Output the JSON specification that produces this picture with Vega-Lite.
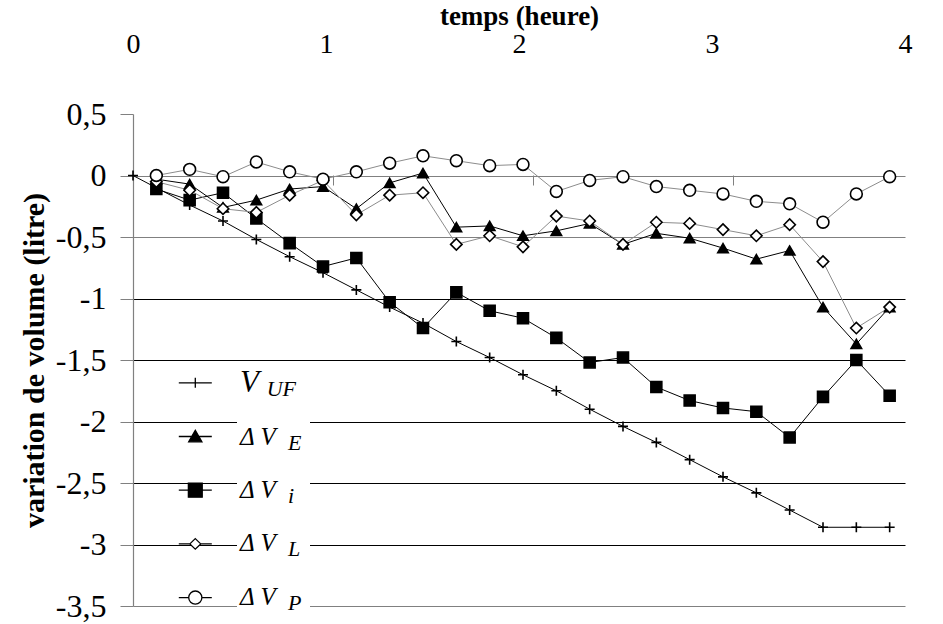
{
  "$schema": "https://vega.github.io/schema/vega-lite/v6.json",
  "width": 772,
  "height": 492,
  "autosize": {"type": "none"},
  "padding": {"left": 133, "top": 114, "right": 38, "bottom": 18},
  "background": "white",
  "config": {"view": {"stroke": null}, "font": "Liberation Serif, Times New Roman, DejaVu Serif, serif"},
  "datasets": {
    "main": [
      {"serie": "1UF", "t": 0, "v": 0},
      {"serie": "1UF", "t": 0.1167, "v": -0.10},
      {"serie": "1UF", "t": 0.2833, "v": -0.24},
      {"serie": "1UF", "t": 0.45, "v": -0.37},
      {"serie": "1UF", "t": 0.6167, "v": -0.52},
      {"serie": "1UF", "t": 0.7833, "v": -0.66},
      {"serie": "1UF", "t": 0.95, "v": -0.79},
      {"serie": "1UF", "t": 1.1167, "v": -0.93},
      {"serie": "1UF", "t": 1.2833, "v": -1.07},
      {"serie": "1UF", "t": 1.45, "v": -1.20},
      {"serie": "1UF", "t": 1.6167, "v": -1.35},
      {"serie": "1UF", "t": 1.7833, "v": -1.48},
      {"serie": "1UF", "t": 1.95, "v": -1.62},
      {"serie": "1UF", "t": 2.1167, "v": -1.75},
      {"serie": "1UF", "t": 2.2833, "v": -1.90},
      {"serie": "1UF", "t": 2.45, "v": -2.04},
      {"serie": "1UF", "t": 2.6167, "v": -2.17},
      {"serie": "1UF", "t": 2.7833, "v": -2.31},
      {"serie": "1UF", "t": 2.95, "v": -2.45},
      {"serie": "1UF", "t": 3.1167, "v": -2.58},
      {"serie": "1UF", "t": 3.2833, "v": -2.72},
      {"serie": "1UF", "t": 3.45, "v": -2.86},
      {"serie": "1UF", "t": 3.6167, "v": -2.86},
      {"serie": "1UF", "t": 3.7833, "v": -2.86},
      {"serie": "2E", "t": 0.1167, "v": -0.03},
      {"serie": "2E", "t": 0.2833, "v": -0.07},
      {"serie": "2E", "t": 0.45, "v": -0.26},
      {"serie": "2E", "t": 0.6167, "v": -0.20},
      {"serie": "2E", "t": 0.7833, "v": -0.11},
      {"serie": "2E", "t": 0.95, "v": -0.09},
      {"serie": "2E", "t": 1.1167, "v": -0.27},
      {"serie": "2E", "t": 1.2833, "v": -0.06},
      {"serie": "2E", "t": 1.45, "v": 0.02},
      {"serie": "2E", "t": 1.6167, "v": -0.42},
      {"serie": "2E", "t": 1.7833, "v": -0.41},
      {"serie": "2E", "t": 1.95, "v": -0.49},
      {"serie": "2E", "t": 2.1167, "v": -0.45},
      {"serie": "2E", "t": 2.2833, "v": -0.39},
      {"serie": "2E", "t": 2.45, "v": -0.56},
      {"serie": "2E", "t": 2.6167, "v": -0.47},
      {"serie": "2E", "t": 2.7833, "v": -0.51},
      {"serie": "2E", "t": 2.95, "v": -0.59},
      {"serie": "2E", "t": 3.1167, "v": -0.68},
      {"serie": "2E", "t": 3.2833, "v": -0.61},
      {"serie": "2E", "t": 3.45, "v": -1.07},
      {"serie": "2E", "t": 3.6167, "v": -1.37},
      {"serie": "2E", "t": 3.7833, "v": -1.07},
      {"serie": "3i", "t": 0.1167, "v": -0.11},
      {"serie": "3i", "t": 0.2833, "v": -0.20},
      {"serie": "3i", "t": 0.45, "v": -0.14},
      {"serie": "3i", "t": 0.6167, "v": -0.35},
      {"serie": "3i", "t": 0.7833, "v": -0.55},
      {"serie": "3i", "t": 0.95, "v": -0.74},
      {"serie": "3i", "t": 1.1167, "v": -0.67},
      {"serie": "3i", "t": 1.2833, "v": -1.03},
      {"serie": "3i", "t": 1.45, "v": -1.24},
      {"serie": "3i", "t": 1.6167, "v": -0.95},
      {"serie": "3i", "t": 1.7833, "v": -1.10},
      {"serie": "3i", "t": 1.95, "v": -1.16},
      {"serie": "3i", "t": 2.1167, "v": -1.32},
      {"serie": "3i", "t": 2.2833, "v": -1.52},
      {"serie": "3i", "t": 2.45, "v": -1.48},
      {"serie": "3i", "t": 2.6167, "v": -1.72},
      {"serie": "3i", "t": 2.7833, "v": -1.83},
      {"serie": "3i", "t": 2.95, "v": -1.89},
      {"serie": "3i", "t": 3.1167, "v": -1.92},
      {"serie": "3i", "t": 3.2833, "v": -2.13},
      {"serie": "3i", "t": 3.45, "v": -1.80},
      {"serie": "3i", "t": 3.6167, "v": -1.50},
      {"serie": "3i", "t": 3.7833, "v": -1.79},
      {"serie": "4L", "t": 0.1167, "v": -0.05},
      {"serie": "4L", "t": 0.2833, "v": -0.12},
      {"serie": "4L", "t": 0.45, "v": -0.27},
      {"serie": "4L", "t": 0.6167, "v": -0.30},
      {"serie": "4L", "t": 0.7833, "v": -0.16},
      {"serie": "4L", "t": 0.95, "v": -0.04},
      {"serie": "4L", "t": 1.1167, "v": -0.32},
      {"serie": "4L", "t": 1.2833, "v": -0.16},
      {"serie": "4L", "t": 1.45, "v": -0.14},
      {"serie": "4L", "t": 1.6167, "v": -0.56},
      {"serie": "4L", "t": 1.7833, "v": -0.49},
      {"serie": "4L", "t": 1.95, "v": -0.58},
      {"serie": "4L", "t": 2.1167, "v": -0.33},
      {"serie": "4L", "t": 2.2833, "v": -0.37},
      {"serie": "4L", "t": 2.45, "v": -0.56},
      {"serie": "4L", "t": 2.6167, "v": -0.38},
      {"serie": "4L", "t": 2.7833, "v": -0.39},
      {"serie": "4L", "t": 2.95, "v": -0.44},
      {"serie": "4L", "t": 3.1167, "v": -0.49},
      {"serie": "4L", "t": 3.2833, "v": -0.40},
      {"serie": "4L", "t": 3.45, "v": -0.70},
      {"serie": "4L", "t": 3.6167, "v": -1.24},
      {"serie": "4L", "t": 3.7833, "v": -1.07},
      {"serie": "5P", "t": 0.1167, "v": 0.00},
      {"serie": "5P", "t": 0.2833, "v": 0.05},
      {"serie": "5P", "t": 0.45, "v": -0.01},
      {"serie": "5P", "t": 0.6167, "v": 0.11},
      {"serie": "5P", "t": 0.7833, "v": 0.03},
      {"serie": "5P", "t": 0.95, "v": -0.03},
      {"serie": "5P", "t": 1.1167, "v": 0.03},
      {"serie": "5P", "t": 1.2833, "v": 0.10},
      {"serie": "5P", "t": 1.45, "v": 0.16},
      {"serie": "5P", "t": 1.6167, "v": 0.12},
      {"serie": "5P", "t": 1.7833, "v": 0.08},
      {"serie": "5P", "t": 1.95, "v": 0.09},
      {"serie": "5P", "t": 2.1167, "v": -0.13},
      {"serie": "5P", "t": 2.2833, "v": -0.04},
      {"serie": "5P", "t": 2.45, "v": -0.01},
      {"serie": "5P", "t": 2.6167, "v": -0.09},
      {"serie": "5P", "t": 2.7833, "v": -0.12},
      {"serie": "5P", "t": 2.95, "v": -0.15},
      {"serie": "5P", "t": 3.1167, "v": -0.21},
      {"serie": "5P", "t": 3.2833, "v": -0.23},
      {"serie": "5P", "t": 3.45, "v": -0.38},
      {"serie": "5P", "t": 3.6167, "v": -0.15},
      {"serie": "5P", "t": 3.7833, "v": -0.01}
    ],
    "leg": [
      {"serie": "1UF"},
      {"serie": "2E"},
      {"serie": "3i"},
      {"serie": "4L"},
      {"serie": "5P"}
    ]
  },
  "layer": [
    {
      "data": {"name": "main"},
      "mark": {"type": "line", "strokeWidth": 1},
      "encoding": {
        "x": {
          "field": "t", "type": "quantitative",
          "scale": {"domain": [0, 3.86], "nice": false, "zero": false},
          "axis": {
            "orient": "top", "offset": 56, "values": [0, 0.965, 1.93, 2.895, 3.86],
            "labelExpr": "toString(round(datum.value / 0.965))",
            "grid": false, "domain": false, "ticks": false, "labelPadding": 0,
            "labelFlush": false, "labelOverlap": false,
            "labelFont": "Liberation Serif, Times New Roman, DejaVu Serif, serif", "labelFontSize": 28, "labelColor": "black",
            "title": "temps (heure)", "titleFont": "Liberation Serif, Times New Roman, DejaVu Serif, serif", "titleFontSize": 27,
            "titleFontWeight": "bold", "titleColor": "black", "titlePadding": 0
          }
        },
        "y": {
          "field": "v", "type": "quantitative",
          "scale": {"domain": [-3.5, 0.5], "nice": false, "zero": false},
          "axis": {
            "values": [-3.5, -3, -2.5, -2, -1.5, -1, -0.5, 0, 0.5],
            "labelExpr": "replace(toString(datum.value), '.', ',')",
            "labelFont": "Liberation Serif, Times New Roman, DejaVu Serif, serif", "labelFontSize": 32, "labelColor": "black",
            "labelPadding": 14, "tickSize": 13, "tickColor": "#808080",
            "domainColor": "#808080", "domainWidth": 1.2,
            "grid": true, "gridWidth": 1,
            "gridColor": {"condition": {"test": "datum.value == 0 || datum.value == -0.5 || datum.value == -3.5", "value": "#808080"}, "value": "black"},
            "gridOpacity": {"condition": {"test": "datum.value == 0.5", "value": 0}, "value": 1},
            "title": "variation de volume (litre)", "titleFont": "Liberation Serif, Times New Roman, DejaVu Serif, serif",
            "titleFontSize": 30, "titleFontWeight": "bold", "titleColor": "black", "titlePadding": 6
          }
        },
        "color": {
          "field": "serie", "type": "nominal",
          "scale": {"domain": ["1UF", "2E", "3i", "4L", "5P"], "range": ["black", "black", "black", "#8c8c8c", "#8c8c8c"]},
          "legend": null
        }
      }
    },
    {
      "data": {"name": "main"},
      "mark": {"type": "point", "stroke": "black", "strokeWidth": 1.6, "opacity": 1},
      "encoding": {
        "x": {
          "field": "t", "type": "quantitative",
          "axis": {
            "orient": "bottom", "offset": -431, "values": [1, 2, 3],
            "labels": false, "grid": false, "domain": false, "ticks": true,
            "tickSize": 10, "tickColor": "#808080", "title": null
          }
        },
        "y": {"field": "v", "type": "quantitative"},
        "shape": {
          "field": "serie", "type": "nominal",
          "scale": {"domain": ["1UF", "2E", "3i", "4L", "5P"], "range": ["M-1,0L1,0M0,-1L0,1", "triangle-up", "square", "diamond", "circle"]},
          "legend": null
        },
        "fill": {
          "field": "serie", "type": "nominal",
          "scale": {"domain": ["1UF", "2E", "3i", "4L", "5P"], "range": ["black", "black", "black", "white", "white"]},
          "legend": null
        },
        "size": {
          "field": "serie", "type": "nominal",
          "scale": {"domain": ["1UF", "2E", "3i", "4L", "5P"], "range": [100, 140, 156, 90, 137]},
          "legend": null
        }
      }
    },
    {
      "data": {"name": "leg"},
      "mark": {"type": "point", "opacity": 0},
      "encoding": {
        "shape": {
          "field": "serie", "type": "nominal",
          "scale": {"range": [
            "M0,-1.0515M0,1.0515M-1,0L1,0M0,-0.3L0,0.3",
            "M0,-1.0515M0,1.0515M-1,0L1,0M-0.4,0.32L0,-0.38L0.4,0.32Z",
            "M0,-1.0515M0,1.0515M-1,0L1,0M-0.42,-0.42L0.42,-0.42L0.42,0.42L-0.42,0.42Z",
            "M0,-1.0515M0,1.0515M-1,0L-0.33,0M0.33,0L1,0M0,-0.32L0.33,0L0,0.32L-0.33,0Z",
            "M0,-1.0515M0,1.0515M-1,0L-0.4,0M0.4,0L1,0M-0.4,0A0.4,0.4,0,1,0,0.4,0A0.4,0.4,0,1,0,-0.4,0Z"
          ]},
          "legend": {
            "orient": "none", "legendX": 44.8, "legendY": 251.3, "title": null,
            "padding": 0, "rowPadding": 12.7, "symbolSize": 1089, "symbolStrokeWidth": 1.3,
            "symbolOpacity": 1,
            "labelExpr": "''", "labelFontSize": 10, "labelOffset": 0
          }
        },
        "fill": {
          "field": "serie", "type": "nominal",
          "scale": {"range": ["black", "black", "black", "white", "white"]}
        },
        "stroke": {
          "field": "serie", "type": "nominal",
          "scale": {"range": ["black", "black", "black", "black", "black"]}
        }
      }
    },
    {
      "data": {"name": "leg"},
      "mark": {"type": "point", "opacity": 0},
      "encoding": {
        "shape": {
          "field": "serie", "type": "nominal",
          "scale": {"range": ["M-1,-1L2.667,1"]},
          "legend": {
            "values": ["1UF"],
            "orient": "none", "legendX": 107, "legendY": 251.3, "title": null,
            "padding": 0, "rowPadding": 17.35,
            "symbolSize": 1296, "symbolStrokeWidth": 0, "symbolOpacity": 0,
            "labelOffset": -36, "labelFont": "Liberation Serif, Times New Roman, DejaVu Serif, serif", "labelFontStyle": "italic",
            "labelFontSize": 31, "labelColor": "black",
            "labelExpr": "'V'"
          }
        }
      }
    },
    {
      "data": {"name": "leg"},
      "mark": {"type": "point", "opacity": 0},
      "encoding": {
        "shape": {
          "field": "serie", "type": "nominal",
          "scale": {"range": ["M-1,-1L2.667,1"]},
          "legend": {
            "values": ["2E", "3i", "4L", "5P"],
            "orient": "none", "legendX": 104, "legendY": 301.65, "title": null,
            "padding": 3, "fillColor": "white", "rowPadding": 17.35,
            "symbolSize": 1296, "symbolStrokeWidth": 0, "symbolOpacity": 0,
            "labelOffset": -36, "labelFont": "Liberation Serif, Times New Roman, DejaVu Serif, serif", "labelFontStyle": "italic",
            "labelFontSize": 25, "labelColor": "black",
            "labelExpr": "'Δ V'"
          }
        }
      }
    },
    {
      "data": {"name": "leg"},
      "mark": {"type": "point", "opacity": 0},
      "encoding": {
        "shape": {
          "field": "serie", "type": "nominal",
          "scale": {"range": ["M0,-1L0,1"]},
          "legend": {
            "values": ["1UF"],
            "orient": "none", "legendX": 133.7, "legendY": 257.3, "title": null,
            "padding": 0, "rowPadding": 17.35,
            "symbolSize": 1296, "symbolStrokeWidth": 0, "symbolOpacity": 0,
            "labelOffset": -36, "labelFont": "Liberation Serif, Times New Roman, DejaVu Serif, serif", "labelFontStyle": "italic",
            "labelFontSize": 22, "labelColor": "black",
            "labelExpr": "'UF'"
          }
        }
      }
    },
    {
      "data": {"name": "leg"},
      "mark": {"type": "point", "opacity": 0},
      "encoding": {
        "shape": {
          "field": "serie", "type": "nominal",
          "scale": {"range": ["M0,-1L0,1"]},
          "legend": {
            "values": ["2E", "3i", "4L", "5P"],
            "orient": "none", "legendX": 155, "legendY": 310.65, "title": null,
            "padding": 0, "rowPadding": 17.35,
            "symbolSize": 1296, "symbolStrokeWidth": 0, "symbolOpacity": 0,
            "labelOffset": -36, "labelFont": "Liberation Serif, Times New Roman, DejaVu Serif, serif", "labelFontStyle": "italic",
            "labelFontSize": 22, "labelColor": "black",
            "labelExpr": "datum.value === '2E' ? 'E' : datum.value === '3i' ? 'i' : datum.value === '4L' ? 'L' : 'P'"
          }
        }
      }
    }
  ],
  "resolve": {"scale": {"shape": "independent", "fill": "independent", "stroke": "independent"}, "axis": {"x": "independent"}}
}
